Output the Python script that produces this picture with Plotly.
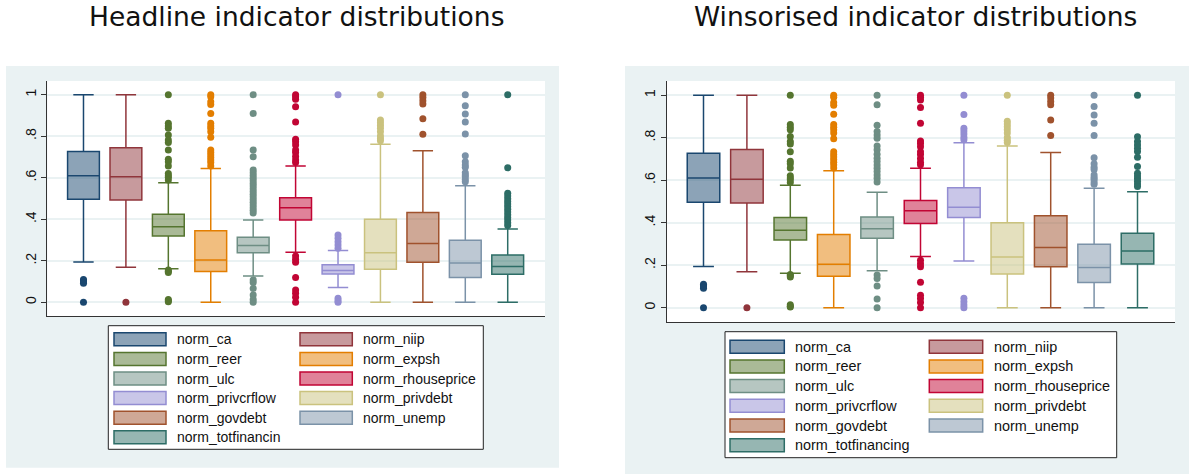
import plotly.graph_objects as go

# ---------------------------------------------------------------------------
# Indicator names (the left legend truncates the last label)
indicators = ["norm_ca", "norm_niip", "norm_reer", "norm_expsh", "norm_ulc",
              "norm_rhouseprice", "norm_privcrflow", "norm_privdebt",
              "norm_govdebt", "norm_unemp", "norm_totfinancing"]
legend_left = indicators[:-1] + ["norm_totfinancin"]
legend_right = indicators[:]

# Stata s2color series colours
colors = [(26, 71, 111), (144, 53, 59), (85, 117, 47), (227, 126, 0),
          (110, 142, 132), (193, 5, 52), (147, 141, 210), (202, 194, 126),
          (160, 82, 45), (123, 146, 168), (45, 109, 102)]

# ---------------------------------------------------------------------------
# Headline distributions: whisker ends, quartiles, medians
head_low = [0.194, 0.169, 0.162, 0.0, 0.127, 0.241, 0.071, 0.0, 0.0, 0.0, 0.0]
head_q1 = [0.496, 0.493, 0.319, 0.148, 0.239, 0.396, 0.136, 0.159, 0.193, 0.119, 0.135]
head_med = [0.610, 0.605, 0.364, 0.204, 0.274, 0.456, 0.153, 0.239, 0.283, 0.189, 0.172]
head_q3 = [0.727, 0.745, 0.424, 0.345, 0.313, 0.504, 0.181, 0.400, 0.433, 0.299, 0.228]
head_high = [1.0, 1.0, 0.576, 0.644, 0.396, 0.656, 0.249, 0.761, 0.730, 0.562, 0.353]
head_out = [
    [0.110, 0.104, 0.098, 0.092, 0.0],
    [0.0],
    [1.0, 0.862, 0.849, 0.838, 0.806, 0.782, 0.770, 0.734, 0.689, 0.677, 0.657,
     0.621, 0.610, 0.602, 0.589, 0.156, 0.150, 0.144, 0.014, 0.007, 0.003],
    [1.0, 0.990, 0.966, 0.953, 0.910, 0.862, 0.849, 0.838, 0.822, 0.795,
     0.734, 0.721, 0.709, 0.698, 0.685, 0.673, 0.657],
    [1.0, 0.910, 0.734, 0.701, 0.637, 0.624, 0.611, 0.598, 0.585, 0.572, 0.560,
     0.547, 0.534, 0.521, 0.508, 0.495, 0.482, 0.469, 0.456, 0.443, 0.430,
     0.108, 0.095, 0.067, 0.035, 0.014, 0.0],
    [1.0, 0.990, 0.978, 0.942, 0.868, 0.785, 0.773, 0.758, 0.734, 0.721, 0.702,
     0.685, 0.673, 0.223, 0.207, 0.193, 0.120, 0.059, 0.043, 0.024, 0.0],
    [1.0, 0.324, 0.308, 0.292, 0.276, 0.260, 0.019, 0.008, 0.0],
    [1.0, 0.878, 0.865, 0.852, 0.838, 0.822, 0.801, 0.788, 0.778],
    [1.0, 0.987, 0.971, 0.955, 0.884, 0.810],
    [1.0, 0.947, 0.907, 0.868, 0.811, 0.706, 0.677, 0.661, 0.650, 0.624,
     0.613, 0.605, 0.592, 0.581],
    [1.0, 0.648, 0.525, 0.512, 0.499, 0.486, 0.473, 0.461, 0.448, 0.435,
     0.422, 0.409, 0.396, 0.383, 0.370],
]

# ---------------------------------------------------------------------------
# Winsorised distributions
wins_low = [0.194, 0.169, 0.162, 0.0, 0.174, 0.241, 0.220, 0.0, 0.0, 0.0, 0.0]
wins_q1 = [0.496, 0.493, 0.319, 0.148, 0.327, 0.396, 0.424, 0.159, 0.193, 0.119, 0.206]
wins_med = [0.610, 0.605, 0.364, 0.204, 0.372, 0.456, 0.473, 0.239, 0.283, 0.189, 0.267]
wins_q3 = [0.727, 0.745, 0.424, 0.345, 0.427, 0.504, 0.565, 0.400, 0.433, 0.299, 0.350]
wins_high = [1.0, 1.0, 0.576, 0.644, 0.543, 0.656, 0.776, 0.761, 0.730, 0.562, 0.546]
wins_out = [
    head_out[0],
    head_out[1],
    head_out[2],
    head_out[3],
    [1.0, 0.955, 0.859, 0.829, 0.813, 0.797, 0.761, 0.743, 0.722, 0.703, 0.688,
     0.672, 0.656, 0.641, 0.625, 0.609, 0.592, 0.154, 0.138, 0.102, 0.041, 0.0],
    head_out[5],
    [1.0, 0.909, 0.845, 0.832, 0.818, 0.802, 0.790, 0.044, 0.028, 0.013, 0.0],
    head_out[7],
    head_out[8],
    head_out[9],
    [1.0, 0.805, 0.782, 0.766, 0.750, 0.735, 0.708, 0.664, 0.633, 0.620,
     0.608, 0.595, 0.582, 0.570],
]

y_ticks = [0, 0.2, 0.4, 0.6, 0.8, 1.0]
y_tick_text = ["0", ".2", ".4", ".6", ".8", "1"]

W, H = 1189, 474
BG = "#EAF2F3"


def rgb(c, a=1.0):
    return "rgba(%d,%d,%d,%g)" % (c[0], c[1], c[2], a)


def px_x(p):
    return p / W


def px_y(p):
    return 1 - p / H


fig = go.Figure()

panels = [
    ("x", "y", head_low, head_q1, head_med, head_q3, head_high, head_out),
    ("x2", "y2", wins_low, wins_q1, wins_med, wins_q3, wins_high, wins_out),
]
for xa, ya, lo, q1, med, q3, hi, outs in panels:
    for i, name in enumerate(indicators):
        c = colors[i]
        fig.add_trace(go.Box(
            x=[i], q1=[q1[i]], median=[med[i]], q3=[q3[i]],
            lowerfence=[lo[i]], upperfence=[hi[i]],
            name=name, xaxis=xa, yaxis=ya,
            fillcolor=rgb(c, 0.5), line=dict(color=rgb(c), width=1.5),
            width=0.75, whiskerwidth=0.64, boxpoints=False,
            showlegend=False))
        fig.add_trace(go.Scatter(
            x=[i] * len(outs[i]), y=outs[i], mode="markers",
            xaxis=xa, yaxis=ya, showlegend=False,
            marker=dict(color=rgb(c), size=7, line=dict(width=0))))

# Graph-region backgrounds and legend boxes
shapes = [
    dict(type="rect", xref="paper", yref="paper", layer="below",
         x0=px_x(6), x1=px_x(559), y0=px_y(467.7), y1=px_y(66),
         fillcolor=BG, line=dict(width=0)),
    dict(type="rect", xref="paper", yref="paper", layer="below",
         x0=px_x(625), x1=1.0, y0=0.0, y1=px_y(66),
         fillcolor=BG, line=dict(width=0)),
    dict(type="rect", xref="paper", yref="paper", layer="below",
         x0=px_x(47.3), x1=px_x(545), y0=px_y(316), y1=px_y(81),
         fillcolor="white", line=dict(width=0)),
    dict(type="rect", xref="paper", yref="paper", layer="below",
         x0=px_x(666.7), x1=px_x(1175), y0=px_y(322.3), y1=px_y(81),
         fillcolor="white", line=dict(width=0)),
]
annotations = []

legend_specs = [
    # box x0,x1,y0,y1 ; swatch cols ; text cols ; first row y ; row step ; font size ; labels
    dict(box=(108.3, 483.3, 325.7, 449.3), sw=((114, 166), (300, 352.3)),
         tx=(175, 360.7), y0=339.3, dy=19.6, fs=14, labels=legend_left),
    dict(box=(725, 1116.7, 331.7, 457.7), sw=((730, 784.3), (929.3, 982.7)),
         tx=(792.7, 991.7), y0=346.7, dy=19.7, fs=14.4, labels=legend_right),
]
for spec in legend_specs:
    bx0, bx1, by0, by1 = spec["box"]
    shapes.append(dict(type="rect", xref="paper", yref="paper",
                       x0=px_x(bx0), x1=px_x(bx1), y0=px_y(by1), y1=px_y(by0),
                       fillcolor="white", line=dict(color="#222222", width=1)))
    for i, label in enumerate(spec["labels"]):
        col, row = i % 2, i // 2
        yc = spec["y0"] + row * spec["dy"]
        sx0, sx1 = spec["sw"][col]
        c = colors[i]
        shapes.append(dict(type="rect", xref="paper", yref="paper",
                           x0=px_x(sx0), x1=px_x(sx1),
                           y0=px_y(yc + 6.5), y1=px_y(yc - 6.5),
                           fillcolor=rgb(c, 0.5),
                           line=dict(color=rgb(c), width=1.5)))
        annotations.append(dict(xref="paper", yref="paper",
                                x=px_x(spec["tx"][col]), y=px_y(yc),
                                xanchor="left", yanchor="middle",
                                text=label, showarrow=False,
                                font=dict(family="Liberation Sans", size=spec["fs"],
                                          color="#111111")))

# Panel titles
for text, xc in [("Headline indicator distributions", 296.7),
                 ("Winsorised indicator distributions", 915.8)]:
    annotations.append(dict(xref="paper", yref="paper", x=px_x(xc), y=px_y(16.5),
                            xanchor="center", yanchor="middle", text=text,
                            showarrow=False,
                            font=dict(family="DejaVu Sans", size=26.5, color="#111111")))

yaxis_common = dict(tickmode="array", tickvals=y_ticks, ticktext=y_tick_text,
                    tickangle=-90, ticks="outside", ticklen=5, tickwidth=1,
                    tickcolor="#333333", showline=True, linecolor="#333333",
                    linewidth=1, showgrid=True, gridcolor=BG, gridwidth=1.5,
                    zeroline=False, fixedrange=True,
                    tickfont=dict(family="Liberation Sans", size=14, color="#111111"))
xaxis_common = dict(showticklabels=False, ticks="", showgrid=False, zeroline=False,
                    showline=True, linecolor="#333333", linewidth=1.2,
                    fixedrange=True)

fig.update_layout(
    width=W, height=H,
    margin=dict(l=0, r=0, t=0, b=0),
    paper_bgcolor="white",
    plot_bgcolor="rgba(0,0,0,0)",
    boxmode="overlay",
    showlegend=False,
    xaxis=dict(xaxis_common, domain=[px_x(47.3), px_x(545)],
               range=[-0.853, 10.879], anchor="y"),
    yaxis=dict(yaxis_common, domain=[px_y(316), px_y(81)],
               range=[-0.066, 1.066], anchor="x"),
    xaxis2=dict(xaxis_common, domain=[px_x(666.7), px_x(1175)],
                range=[-0.848, 10.864], anchor="y2"),
    yaxis2=dict(yaxis_common, domain=[px_y(322.3), px_y(81)],
                range=[-0.0687, 1.067], anchor="x2"),
    shapes=shapes,
    annotations=annotations,
)

fig.write_html("out.html")
